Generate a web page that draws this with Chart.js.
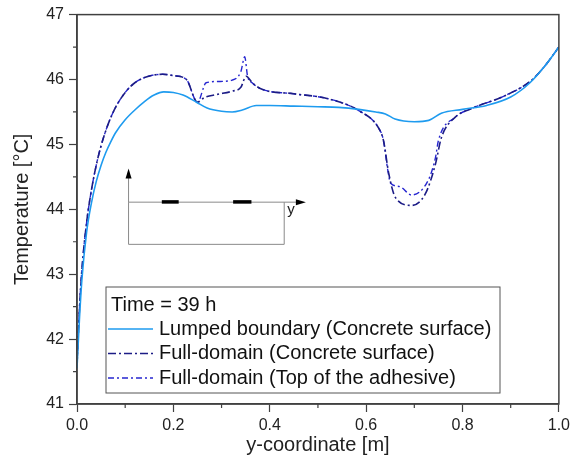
<!DOCTYPE html>
<html>
<head>
<meta charset="utf-8">
<script src="https://cdn.jsdelivr.net/npm/chart.js@4.4.0/dist/chart.umd.min.js"></script>
<style>
  html, body { margin: 0; padding: 0; background: #fff; }
</style>
</head>
<body>
<canvas id="canvas" width="574" height="466"></canvas>
<script>
// temperature along y at t = 39 h

var xLumped = [0.0, 0.005, 0.01, 0.02, 0.03, 0.04, 0.05, 0.06, 0.07, 0.08, 0.1, 0.12, 0.14, 0.16,
               0.18, 0.2, 0.22, 0.248, 0.27, 0.3, 0.322, 0.343, 0.372, 0.4, 0.45, 0.5, 0.543, 0.585,
               0.62, 0.64, 0.66, 0.7, 0.73, 0.756, 0.8, 0.85, 0.9, 0.94, 0.97, 1.0];
var tLumped = [41.55, 42.3, 42.9, 43.65, 44.1, 44.43, 44.68, 44.88, 45.04, 45.18, 45.38, 45.53, 45.66, 45.76,
               45.81, 45.8, 45.76, 45.65, 45.56, 45.51, 45.5, 45.53, 45.6, 45.6, 45.59, 45.58, 45.57, 45.54,
               45.5, 45.47, 45.39, 45.35, 45.37, 45.48, 45.54, 45.6, 45.73, 45.95, 46.2, 46.5];

var xSurface = [0.0, 0.005, 0.01, 0.02, 0.03, 0.04, 0.05, 0.065, 0.08, 0.1, 0.12, 0.14, 0.16, 0.178,
                0.2, 0.227, 0.25, 0.264, 0.29, 0.322, 0.34, 0.351, 0.365, 0.384, 0.45, 0.523, 0.585,
                0.626, 0.636, 0.647, 0.661, 0.694, 0.723, 0.744, 0.756, 0.785, 0.818, 0.888,
                0.942, 0.97, 1.0];
var tSurface = [41.6, 42.45, 43.05, 43.8, 44.3, 44.68, 44.98, 45.32, 45.57, 45.8, 45.95, 46.03, 46.07, 46.08,
                46.06, 46.0, 45.65, 45.72, 45.77, 45.82, 45.88, 46.05, 45.94, 45.85, 45.78, 45.7, 45.52,
                45.25, 45.06, 44.55, 44.18, 44.06, 44.24, 44.7, 45.1, 45.42, 45.55, 45.75,
                45.98, 46.2, 46.5];

var xAdhesive = [0.0, 0.005, 0.01, 0.02, 0.03, 0.04, 0.05, 0.065, 0.08, 0.1, 0.12, 0.14, 0.16, 0.178,
                 0.2, 0.227, 0.25, 0.268, 0.295, 0.322, 0.34, 0.348, 0.354, 0.365, 0.384, 0.45, 0.523,
                 0.585, 0.626, 0.636, 0.645, 0.651, 0.67, 0.694, 0.729, 0.744, 0.75, 0.785, 0.818,
                 0.888, 0.942, 0.97, 1.0];
var tAdhesive = [41.6, 42.45, 43.05, 43.8, 44.3, 44.68, 44.98, 45.32, 45.57, 45.8, 45.95, 46.03, 46.07, 46.08,
                 46.06, 46.0, 45.65, 45.95, 45.97, 45.99, 46.12, 46.35, 46.05, 45.94, 45.85, 45.78, 45.7,
                 45.52, 45.25, 45.06, 44.6, 44.4, 44.35, 44.22, 44.45, 44.8, 45.06, 45.42, 45.55,
                 45.75, 45.98, 46.2, 46.5];

var seriesLabels = ['Lumped boundary (Concrete surface)',
                    'Full-domain (Concrete surface)',
                    'Full-domain (Top of the adhesive)'];
var legendTitle = 'Time = 39 h';

var FONT = "'Liberation Sans', Arial, sans-serif";
var AXIS = '#404040';

function pts(xs, ts) {
  return xs.map(function (x, i) { return { x: x, y: ts[i] }; });
}

// frame, minor ticks, the small sketch and the boxed legend
var extras = {
  id: 'extras',
  afterDraw: function (chart) {
    var c = chart.ctx, a = chart.chartArea;
    var sx = chart.scales.x, sy = chart.scales.y;
    c.save();

    c.strokeStyle = AXIS;
    c.lineWidth = 1.5;
    c.strokeRect(a.left, a.top, a.right - a.left, a.bottom - a.top);

    // minor ticks
    c.lineWidth = 1.2;
    c.beginPath();
    for (var v = 0.1; v < 1; v += 0.2) {
      var px = sx.getPixelForValue(v);
      c.moveTo(px, a.bottom); c.lineTo(px, a.bottom + 4);
    }
    for (var t = 41.5; t < 47; t += 1) {
      var py = sy.getPixelForValue(t);
      c.moveTo(a.left, py); c.lineTo(a.left - 4, py);
    }
    c.stroke();

    // inset sketch
    var X = function (v) { return sx.getPixelForValue(v); };
    var Y = function (v) { return sy.getPixelForValue(v); };
    var x0 = X(0.107), x1 = X(0.43), x2 = X(0.475);
    var yTop = Y(44.11), yBot = Y(43.46), yArr = Y(44.63);
    c.strokeStyle = '#8a8a8a';
    c.lineWidth = 1;
    c.beginPath();
    c.moveTo(x0, yTop); c.lineTo(x0, yBot); c.lineTo(x1, yBot); c.lineTo(x1, yTop);
    c.moveTo(x0, yTop); c.lineTo(x0, yArr + 8);
    c.moveTo(x0, yTop); c.lineTo(x2 - 8, yTop);
    c.stroke();
    c.fillStyle = '#000';
    c.beginPath();
    c.moveTo(x0, yArr); c.lineTo(x0 - 3, yArr + 10); c.lineTo(x0 + 3, yArr + 10); c.closePath();
    c.fill();
    c.beginPath();
    c.moveTo(x2, yTop); c.lineTo(x2 - 10, yTop - 3); c.lineTo(x2 - 10, yTop + 3); c.closePath();
    c.fill();
    c.fillRect(X(0.176), yTop - 2, X(0.211) - X(0.176), 3.5);
    c.fillRect(X(0.324), yTop - 2, X(0.362) - X(0.324), 3.5);
    c.fillStyle = '#222';
    c.font = '15px ' + FONT;
    c.textBaseline = 'middle';
    c.textAlign = 'left';
    c.fillText('y', x1 + 3, yTop + 8);

    // legend
    var lx = a.left + 29, ly = 287, lw = 394, lh = 106;
    c.fillStyle = '#fff';
    c.fillRect(lx, ly, lw, lh);
    c.strokeStyle = '#555';
    c.lineWidth = 1;
    c.strokeRect(lx, ly, lw, lh);
    c.fillStyle = '#111';
    c.font = '20px ' + FONT;
    c.fillText(legendTitle, lx + 5, ly + 18);
    chart.data.datasets.forEach(function (ds, i) {
      var yy = ly + 42 + i * 24.5;
      c.strokeStyle = ds.borderColor;
      c.lineWidth = ds.borderWidth;
      c.setLineDash(ds.borderDash || []);
      c.beginPath();
      c.moveTo(lx + 2, yy); c.lineTo(lx + 47, yy);
      c.stroke();
      c.setLineDash([]);
      c.fillStyle = '#111';
      c.fillText(ds.label, lx + 53, yy);
    });

    c.restore();
  }
};

var ctx = document.getElementById('canvas').getContext('2d');
var chart = new Chart(ctx, {
  type: 'line',
  data: {
    datasets: [
      {
        label: seriesLabels[0],
        data: pts(xLumped, tLumped),
        borderColor: '#1E9BEF',
        borderWidth: 1.6
      },
      {
        label: seriesLabels[1],
        data: pts(xSurface, tSurface),
        borderColor: '#1C1C86',
        borderWidth: 1.6,
        borderDash: [8, 3, 2, 3]
      },
      {
        label: seriesLabels[2],
        data: pts(xAdhesive, tAdhesive),
        borderColor: '#2626D0',
        borderWidth: 1.4,
        borderDash: [6, 3, 2, 3]
      }
    ]
  },
  options: {
    responsive: false,
    animation: false,
    parsing: false,
    layout: { padding: { top: 14, right: 13, left: 0, bottom: 0 } },
    elements: {
      point: { radius: 0 },
      line: { cubicInterpolationMode: 'monotone', fill: false }
    },
    plugins: {
      legend: { display: false },
      tooltip: { enabled: false }
    },
    scales: {
      x: {
        type: 'linear',
        min: 0, max: 1,
        afterFit: function (s) { s.height = 62; },
        border: { display: true, color: AXIS, width: 1.5 },
        grid: { drawOnChartArea: false, tickLength: 8, tickColor: AXIS, tickWidth: 1.2 },
        ticks: {
          stepSize: 0.2,
          padding: 4,
          color: '#222',
          font: { family: FONT, size: 16 },
          callback: function (v) { return v.toFixed(1); }
        },
        title: {
          display: true,
          text: 'y-coordinate [m]',
          color: '#222',
          font: { family: FONT, size: 20 },
          padding: { top: 4, bottom: 9 }
        }
      },
      y: {
        type: 'linear',
        min: 41, max: 47,
        afterFit: function (s) { s.width = 77; },
        border: { display: true, color: AXIS, width: 1.5 },
        grid: { drawOnChartArea: false, tickLength: 8, tickColor: AXIS, tickWidth: 1.2 },
        ticks: {
          stepSize: 1,
          padding: 5,
          color: '#222',
          font: { family: FONT, size: 16 }
        },
        title: {
          display: true,
          text: 'Temperature [°C]',
          color: '#222',
          font: { family: FONT, size: 20 },
          padding: { top: 10, bottom: 4 }
        }
      }
    }
  },
  plugins: [extras]
});
</script>
</body>
</html>
